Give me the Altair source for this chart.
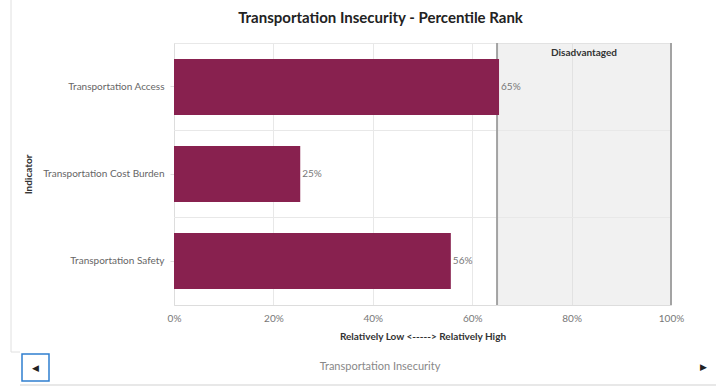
import altair as alt
import pandas as pd

indicators = ["Transportation Access", "Transportation Cost Burden", "Transportation Safety"]
percentiles = [65.4, 25.4, 55.7]
value_labels = ["65%", "25%", "56%"]
zone_start = [65]
zone_end = [100]
zone_label = ["Disadvantaged"]
x_ticks = [0, 20, 40, 60, 80, 100]

FONT = "Lato"
BAR = "#88214F"
P_IN = 0.356
P_OUT = 0.183
W, H = 497, 262
STEP = H / (len(indicators) - P_IN + 2 * P_OUT)

df = pd.DataFrame({"Indicator": indicators, "Pct": percentiles, "Label": value_labels})
zone = pd.DataFrame({"start": zone_start, "end": zone_end, "label": zone_label})
zone["mid"] = (zone["start"] + zone["end"]) / 2
edges = pd.DataFrame({"edge": zone_start + zone_end})
separators = pd.DataFrame({"Indicator": indicators[:-1]})

xscale = alt.Scale(domain=[0, 100], nice=False, zero=True)
yscale = alt.Scale(domain=indicators, paddingInner=P_IN, paddingOuter=P_OUT)

xaxis = alt.Axis(values=x_ticks, labelExpr="datum.value + '%'", title="Relatively Low <-----> Relatively High",
                 ticks=False, domainColor="#dddddd", gridColor="#e8e8e8", labelColor="#777777",
                 labelFont=FONT, labelFontSize=10, labelPadding=8, labelFlush=False,
                 titleFont=FONT, titleFontSize=10, titleFontWeight="bold", titleColor="#333333", titlePadding=8)
yaxis = alt.Axis(title="Indicator", ticks=True, tickColor="#dddddd", tickSize=4, grid=False,
                 domainColor="#dddddd", labelColor="#666666", labelFont=FONT, labelFontSize=10, labelPadding=6,
                 titleFont=FONT, titleFontSize=10, titleFontWeight="bold", titleColor="#333333",
                 titleX=-141)

rect = alt.Chart(zone).mark_rect(fill="#d8d8d8", opacity=0.35).encode(
    x=alt.X("start:Q", scale=xscale, axis=xaxis), x2="end:Q")

seps = alt.Chart(separators).mark_rule(color="#e8e8e8", yOffset=P_IN * STEP / 2).encode(
    y=alt.Y("Indicator:N", scale=yscale, sort=indicators, bandPosition=1))

rules = alt.Chart(edges).mark_rule(color="#a3a3a3", strokeWidth=2).encode(
    x=alt.X("edge:Q", scale=xscale))

zone_text = alt.Chart(zone).mark_text(font=FONT, fontSize=10, fontWeight="bold", color="#333333",
                                      baseline="middle").encode(
    x=alt.X("mid:Q", scale=xscale), y=alt.value(10), text="label:N")

bars = alt.Chart(df).mark_bar(color=BAR).encode(
    x=alt.X("Pct:Q", scale=xscale, axis=xaxis),
    y=alt.Y("Indicator:N", scale=yscale, sort=indicators, axis=yaxis))

labels = alt.Chart(df).mark_text(align="left", dx=2, font=FONT, fontSize=10, color="#777777").encode(
    x=alt.X("Pct:Q", scale=xscale), y=alt.Y("Indicator:N", scale=yscale, sort=indicators), text="Label:N")

dummy = alt.Data(values=[{}])
footer_text = alt.Chart(dummy).mark_text(font=FONT, fontSize=11, color="#888888").encode(
    x=alt.value(206), y=alt.value(324), text=alt.value("Transportation Insecurity"))
right_arrow = alt.Chart(dummy).mark_text(fontSize=9, color="#222222").encode(
    x=alt.value(529), y=alt.value(324), text=alt.value("▶"))
left_box = alt.Chart(dummy).mark_rect(fill="white", stroke="#2f7fd0", strokeWidth=1.5).encode(
    x=alt.value(-152), x2=alt.value(-125), y=alt.value(311), y2=alt.value(338))
left_arrow = alt.Chart(dummy).mark_text(fontSize=9, color="#222222").encode(
    x=alt.value(-138.5), y=alt.value(324.5), text=alt.value("◀"))
border_left = alt.Chart(dummy).mark_rule(color="#e0e0e0").encode(
    x=alt.value(-163), y=alt.value(-43), y2=alt.value(309))
border_jog = alt.Chart(dummy).mark_rule(color="#e0e0e0").encode(
    x=alt.value(-163), x2=alt.value(-154), y=alt.value(309))
border_bottom = alt.Chart(dummy).mark_rule(color="#e0e0e0", strokeWidth=1.5).encode(
    x=alt.value(-154), x2=alt.value(542), y=alt.value(342))

chart = alt.layer(
    rect, seps, rules, bars, labels, zone_text,
    border_left, border_jog, border_bottom, left_box, left_arrow, right_arrow, footer_text
).properties(
    width=W, height=H,
    title=alt.TitleParams("Transportation Insecurity - Percentile Rank", anchor="middle", frame="group", dx=-42,
                          dy=40, font=FONT, fontSize=15, fontWeight="bold", color="#222222", offset=14),
    autosize=alt.AutoSizeParams(type="none"),
    padding={"left": 174, "top": 43, "right": 45, "bottom": 82},
).configure_view(stroke="#e8e8e8")

chart.save("out.html", embed_options={"renderer": "svg", "actions": False})
